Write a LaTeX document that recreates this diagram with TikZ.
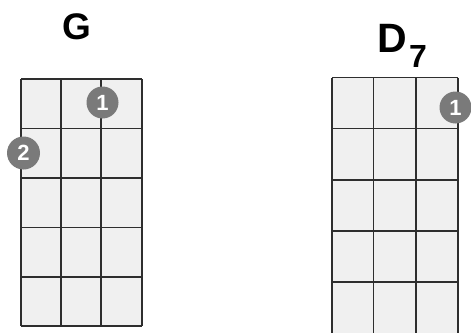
\documentclass[tikz,border=0pt]{standalone}
\usepackage{fontspec}
\setmainfont{Liberation Sans}
\begin{document}
\begin{tikzpicture}[x=1pt,y=-1pt,
  gridline/.style={draw=black!82,line width=1.3pt},
  cellfill/.style={fill=black!6},
  finger/.style={circle,fill=black!52,minimum size=32pt,inner sep=0pt,
    text=white,font=\bfseries\fontsize{22}{22}\selectfont},
  chord/.style={font=\bfseries\fontsize{37}{37}\selectfont,inner sep=0pt}]
\useasboundingbox (0,0) rectangle (471,332);
% G chord grid
\fill[cellfill] (21,79) rectangle (142,326);
\foreach \x in {21,61,101,142} \draw[gridline] (\x,79) -- (\x,326);
\foreach \y in {79,128.5,178,227.5,277,326} \draw[gridline] (21,\y) -- (142,\y);
\node[chord,anchor=base] (g) at (77,39.5) {G};
\node[finger] (g1) at (102.5,102.5) {1};
\node[finger,minimum size=33pt] (g2) at (23.5,153) {2};
% D7 chord grid
\fill[cellfill] (332,77.5) rectangle (458,340);
\foreach \x in {332,373.5,416,458} \draw[gridline] (\x,77.5) -- (\x,340);
\foreach \y in {77.5,128.5,180,231,282} \draw[gridline] (332,\y) -- (458,\y);
\node[chord,anchor=base,font=\bfseries\fontsize{41}{41}\selectfont] (d) at (392.5,52) {D};
\node[chord,anchor=base,font=\bfseries\fontsize{32}{32}\selectfont] (d7) at (418,67) {7};
\node[finger] (d1) at (455.5,107.5) {1};
\end{tikzpicture}
\end{document}
